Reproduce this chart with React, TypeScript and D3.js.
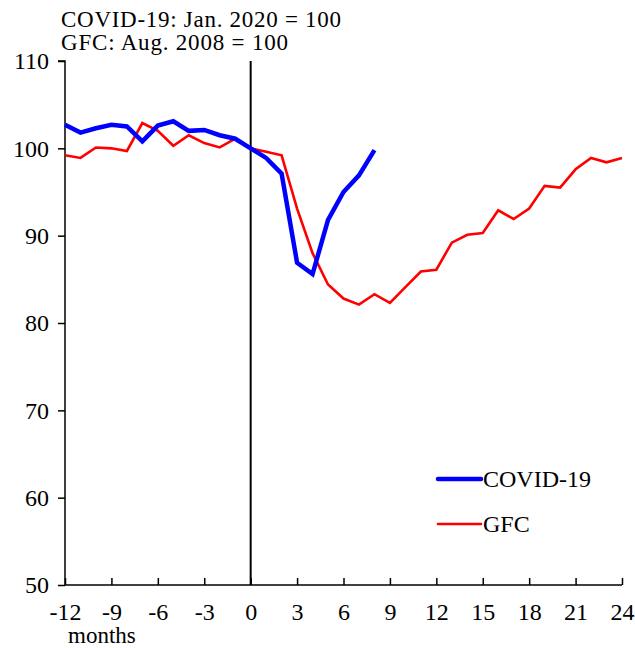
import React, { useEffect, useRef } from "react";
import * as d3 from "d3";

const months = d3.range(-12, 25);
const covidMonths = d3.range(-12, 9);
const covidValues = [
  102.7, 101.8, 102.3, 102.7, 102.5, 100.8, 102.6, 103.1, 102.0, 102.1, 101.5, 101.1,
  100.0, 98.9, 97.1, 86.9, 85.6, 91.8, 95.0, 96.9, 99.8,
];
const gfcValues = [
  99.2, 98.9, 100.1, 100.0, 99.7, 102.9, 102.0, 100.3, 101.5, 100.6, 100.1, 101.1,
  100.0, 99.6, 99.2, 93.1, 88.0, 84.4, 82.8, 82.1, 83.3, 82.3, 84.1, 85.9, 86.1,
  89.2, 90.1, 90.3, 92.9, 91.9, 93.1, 95.7, 95.5, 97.6, 98.9, 98.4, 98.9,
];
const xTicks = [-12, -9, -6, -3, 0, 3, 6, 9, 12, 15, 18, 21, 24];
const yTicks = [50, 60, 70, 80, 90, 100, 110];
const titleLines = ["COVID-19: Jan. 2020 = 100", "GFC: Aug. 2008 = 100"];

const W = 635;
const H = 648;
const margin = { top: 61, right: 13, bottom: 63, left: 65 };
const font = "'Liberation Serif', 'Times New Roman', serif";
const fs = 24;

const App = () => {
  const ref = useRef<SVGSVGElement>(null);

  useEffect(() => {
    const svg = d3.select(ref.current);
    svg.selectAll("*").remove();

    const width = W - margin.left - margin.right;
    const height = H - margin.top - margin.bottom;

    const x = d3.scaleLinear().domain([-12, 24]).range([margin.left, margin.left + width]);
    const y = d3.scaleLinear().domain([50, 110]).range([margin.top + height, margin.top]);

    // title
    svg
      .selectAll(".title")
      .data(titleLines)
      .enter()
      .append("text")
      .attr("x", 61)
      .attr("y", (d, i) => 27 + i * 23)
      .attr("font-family", font)
      .attr("font-size", 23)
      .attr("textLength", (d, i) => (i === 0 ? 280 : 227))
      .text((d) => d);

    // y axis
    const yAxis = svg
      .append("g")
      .attr("transform", `translate(${margin.left},0)`)
      .call(d3.axisLeft(y).tickValues(yTicks).tickSize(7).tickPadding(9));
    yAxis.select(".domain").attr("stroke", "#000").attr("stroke-width", 1.5).attr("d", `M-7,${y(110)}H0V${y(50)}`);
    yAxis.selectAll(".tick line").attr("stroke", "#000").attr("stroke-width", 1.5);
    yAxis.selectAll(".tick text").attr("font-family", font).attr("font-size", fs).attr("fill", "#000");

    // x axis
    const xAxis = svg
      .append("g")
      .attr("transform", `translate(0,${y(50)})`)
      .call(
        d3
          .axisBottom(x)
          .tickValues(xTicks)
          .tickSize(-7)
          .tickPadding(18)
          .tickFormat((d) => String(d))
      );
    xAxis.select(".domain").attr("stroke", "#000").attr("stroke-width", 1.5).attr("d", `M${x(-12)},0H${x(24)}`);
    xAxis.selectAll(".tick line").attr("stroke", "#000").attr("stroke-width", 1.5);
    xAxis.selectAll(".tick text").attr("font-family", font).attr("font-size", fs).attr("fill", "#000");

    svg
      .append("text")
      .attr("x", 68)
      .attr("y", 643)
      .attr("font-family", font)
      .attr("font-size", 23)
      .text("months");

    // zero line
    svg
      .append("line")
      .attr("x1", x(0))
      .attr("x2", x(0))
      .attr("y1", y(110))
      .attr("y2", y(50))
      .attr("stroke", "#000")
      .attr("stroke-width", 2);

    const line = d3
      .line<number>()
      .x((d, i) => x(months[i]))
      .y((d) => y(d));

    svg
      .append("path")
      .datum(gfcValues)
      .attr("fill", "none")
      .attr("stroke", "#ff0000")
      .attr("stroke-width", 2.6)
      .attr("d", line);

    svg
      .append("path")
      .datum(covidValues)
      .attr("fill", "none")
      .attr("stroke", "#0000ff")
      .attr("stroke-width", 4.5)
      .attr("d", d3.line<number>().x((d, i) => x(covidMonths[i])).y((d) => y(d)));

    // legend
    const legend = [
      { label: "COVID-19", color: "#0000ff", w: 4.5 },
      { label: "GFC", color: "#ff0000", w: 2.6 },
    ];
    const lg = svg
      .selectAll(".legend")
      .data(legend)
      .enter()
      .append("g")
      .attr("transform", (d, i) => `translate(438,${479 + i * 45})`);
    lg.append("line")
      .attr("x1", 0)
      .attr("x2", 43)
      .attr("stroke", (d) => d.color)
      .attr("stroke-width", (d) => d.w)
      .attr("stroke-linecap", "round");
    lg.append("text")
      .attr("x", 45)
      .attr("y", 8)
      .attr("font-family", font)
      .attr("font-size", fs)
      .text((d) => d.label);
  });

  return (
    <div style={{ position: "absolute", left: 0, top: 0 }}>
      <svg ref={ref} width={W} height={H} style={{ display: "block", background: "#fff" }} />
    </div>
  );
};

export default App;
